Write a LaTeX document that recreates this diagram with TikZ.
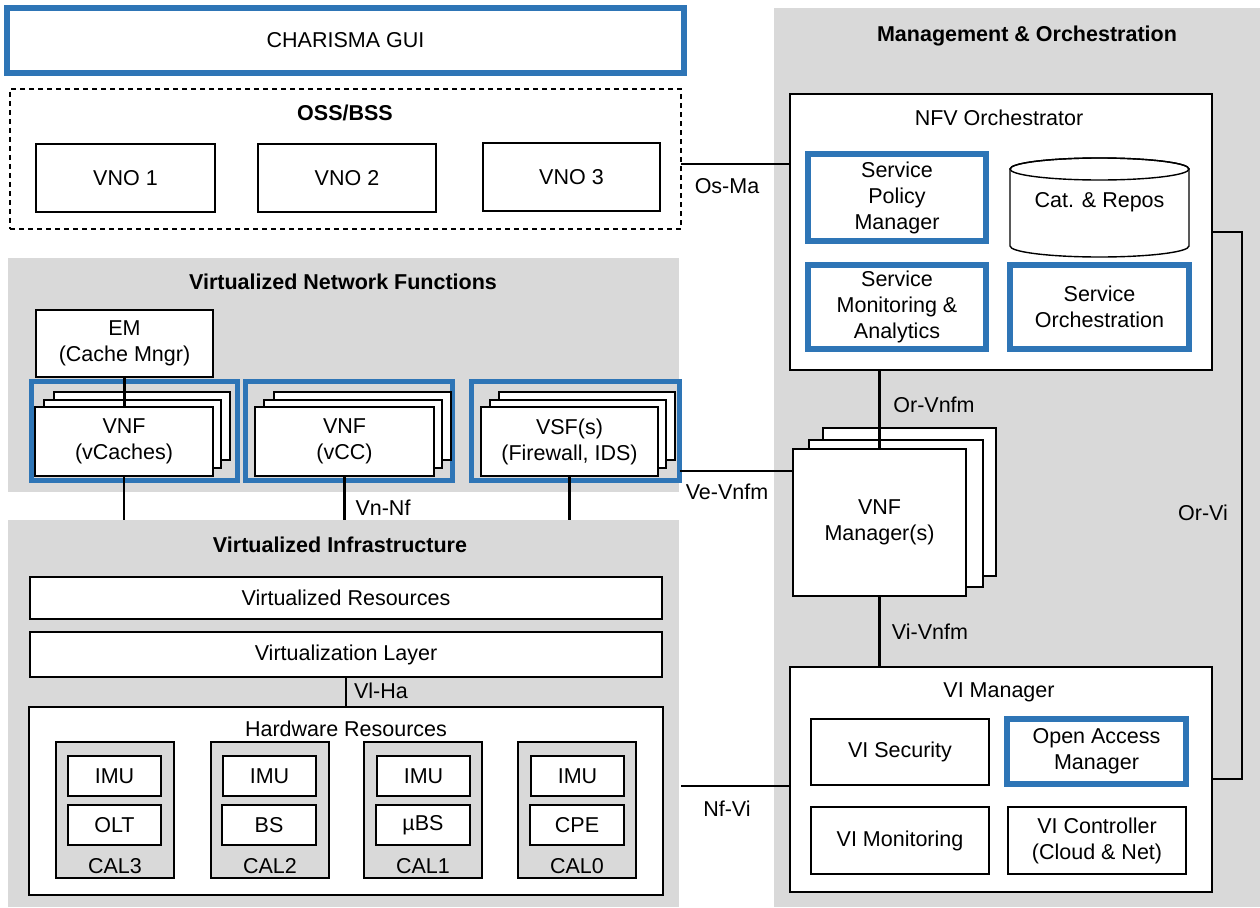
\documentclass[tikz,border=0pt]{standalone}
\usepackage{fontspec}
\setmainfont{Liberation Sans}
\definecolor{mblue}{RGB}{46,117,182}
\definecolor{pgray}{RGB}{217,217,217}
\newcommand{\bx}[7]{%
  \pgfmathsetmacro\bxcx{(#4+#6)/2}%
  \pgfmathsetmacro\bxcy{(#5+#7)/2}%
  \pgfmathsetmacro\bxww{#6-#4}%
  \pgfmathsetmacro\bxhh{#7-#5}%
  \node[#1, minimum width=\bxww pt, minimum height=\bxhh pt] (#2) at (\bxcx,\bxcy) {#3};}
\tikzset{
  every node/.style={font=\fontsize{21.5}{26}\selectfont, align=center, inner sep=0pt, outer sep=0pt},
  panel/.style={fill=pgray, draw=none},
  wbox/.style={draw=black, fill=white, line width=1.4pt},
  gbox/.style={draw=black, fill=pgray, line width=1.4pt},
  bbox/.style={draw=mblue, fill=white, line width=5.5pt},
  bframe/.style={draw=mblue, line width=5.5pt},
  dbox/.style={draw=black, line width=1.3pt, dash pattern=on 5pt off 4pt},
  ghost/.style={draw=none},
  conn/.style={line width=2.6pt},
  ttl/.style={font=\fontsize{21.5}{26}\selectfont\bfseries},
}
\begin{document}
\begin{tikzpicture}[x=1pt,y=-1pt]
\useasboundingbox (0,0) rectangle (1260,907);
% panels
\bx{panel}{mano}{}{774}{8}{1260}{907}
\bx{panel}{vnfpanel}{}{8}{258}{679}{492}
\bx{panel}{vipanel}{}{8}{520}{679}{907}
\node[ttl] (manot) at (1027,36) {Management \& Orchestration};
\node[ttl] (vnft) at (343,282) {Virtualized Network Functions};
\node[ttl] (vit) at (340,545) {Virtualized Infrastructure};
% GUI and OSS/BSS
\bx{bbox}{gui}{CHARISMA GUI}{7}{8}{684}{73}
\bx{dbox}{oss}{}{10}{89}{681}{229}
\node[ttl] (osst) at (345,113) {OSS/BSS};
\bx{wbox}{vno1}{VNO 1}{36}{144}{215}{212}
\bx{wbox}{vno2}{VNO 2}{258}{144}{436}{212}
\bx{wbox}{vno3}{VNO 3}{483}{143}{660}{211}
% VNFs
\bx{wbox}{em}{EM\\(Cache Mngr)}{36}{310}{213}{377}
\bx{bframe}{bcache}{}{31.5}{381.5}{237.5}{480.5}
\bx{bframe}{bvcc}{}{245.5}{381.5}{452.5}{480.5}
\bx{bframe}{bvsf}{}{471.5}{381.5}{679.5}{480.5}
\bx{wbox}{cache3}{}{54}{392}{230}{460}
\bx{wbox}{cache2}{}{44}{400}{221}{468}
\bx{wbox}{cache}{VNF\\(vCaches)}{35}{407}{213}{476}
\bx{wbox}{vcc3}{}{274}{392}{451}{460}
\bx{wbox}{vcc2}{}{264}{400}{442}{468}
\bx{wbox}{vcc}{VNF\\(vCC)}{255}{407}{434}{476}
\bx{wbox}{vsf3}{}{499}{392}{675}{460}
\bx{wbox}{vsf2}{}{490}{400}{666}{468}
\bx{wbox}{vsf}{VSF(s)\\(Firewall, IDS)}{481}{407}{658}{476}
% Virtualized infrastructure
\bx{wbox}{vres}{Virtualized Resources}{30}{577}{662}{619}
\bx{wbox}{vlayer}{Virtualization Layer}{30}{632}{662}{677}
\bx{wbox}{hw}{}{29}{707}{663}{895}
\node (hwt) at (346,729) {Hardware Resources};
\bx{gbox}{cal3}{}{56}{742}{174}{878}
\bx{wbox}{imu3}{IMU}{68}{756}{161}{796}
\bx{wbox}{olt}{OLT}{68}{805}{161}{845}
\node (cal3t) at (115,866) {CAL3};
\bx{gbox}{cal2}{}{211}{742}{329}{878}
\bx{wbox}{imu2}{IMU}{223}{756}{316}{796}
\bx{wbox}{bs}{BS}{222}{805}{316}{845}
\node (cal2t) at (270,866) {CAL2};
\bx{gbox}{cal1}{}{364}{742}{482}{878}
\bx{wbox}{imu1}{IMU}{377}{756}{470}{796}
\bx{wbox}{ubs}{µBS}{376}{805}{470}{845}
\node (cal1t) at (423,866) {CAL1};
\bx{gbox}{cal0}{}{518}{742}{636}{878}
\bx{wbox}{imu0}{IMU}{531}{756}{624}{796}
\bx{wbox}{cpe}{CPE}{530}{805}{624}{845}
\node (cal0t) at (577,866) {CAL0};
% MANO
\bx{wbox}{nfvo}{}{790}{94}{1212}{370}
\node (nfvot) at (999,118) {NFV Orchestrator};
\bx{bbox}{spm}{Service\\Policy\\Manager}{808}{154}{986}{241}
\bx{ghost}{cat}{}{1010}{158}{1189}{235}
\draw[wbox] (cat.north west) ++(0,11) -- ([yshift=-11pt]cat.south west)
  arc[start angle=180,end angle=360,x radius=89.5pt,y radius=11pt]
  -- ([yshift=-11pt]cat.north east)
  arc[start angle=0,end angle=180,x radius=89.5pt,y radius=11pt] -- cycle;
\draw[line width=1.4pt] ([yshift=-11pt]cat.north) ellipse[x radius=89.5pt,y radius=11pt];
\node (catt) at ([yshift=-6pt]cat.center) {Cat. \& Repos};
\bx{bbox}{sma}{Service\\Monitoring \&\\Analytics}{808}{265}{986}{349}
\bx{bbox}{so}{Service\\Orchestration}{1010}{265}{1189}{349}
\bx{wbox}{vnfm3}{}{823}{428}{996}{576}
\bx{wbox}{vnfm2}{}{809}{440}{983}{587}
\bx{wbox}{vnfm}{VNF\\Manager(s)}{793}{449}{966}{596}
\bx{wbox}{vim}{}{790}{667}{1212}{892}
\node (vimt) at (999,692) {VI Manager};
\bx{wbox}{visec}{VI Security}{811}{719}{989}{785}
\bx{bbox}{oam}{Open Access\\Manager}{1007}{719}{1186}{784}
\bx{wbox}{vimon}{VI Monitoring}{811}{807}{989}{874}
\bx{wbox}{victl}{VI Controller\\(Cloud \& Net)}{1008}{807}{1186}{874}
% connectors
\coordinate (osma) at (681,164);
\draw[conn] (osma) -- (osma -| nfvo.west);
\coordinate (orvi1) at (1212,232);
\coordinate (orvi2) at (1242,232);
\coordinate (orvi3) at (1242,779);
\draw[conn] (orvi1) -- (orvi2) -- (orvi3) -- (orvi3 -| vim.east);
\draw[conn] (vnfm.north) -- (vnfm.north |- nfvo.south);
\draw[conn] (vnfm.south) -- (vnfm.south |- vim.north);
\coordinate (vevnfm) at (679.5,471);
\draw[conn] (vevnfm) -- (vevnfm -| vnfm.west);
\coordinate (nfvi) at (681,786);
\draw[conn] (nfvi) -- (nfvi -| vim.west);
\draw[conn] (em.south) -- (em.south |- cache.north);
\draw[conn] (cache.south) -- (cache.south |- vipanel.north);
\draw[conn] (vcc.south) -- (vcc.south |- vipanel.north);
\draw[conn] (vsf.south) -- (vsf.south |- vipanel.north);
\draw[conn] (vlayer.south) -- (vlayer.south |- hw.north);
% labels
\node (losma) at (727,186) {Os-Ma};
\node (lvevnfm) at (727,492) {Ve-Vnfm};
\node (lnfvi) at (727,809) {Nf-Vi};
\node (lorvnfm) at (934,405) {Or-Vnfm};
\node (lvivnfm) at (930,632) {Vi-Vnfm};
\node (lorvi) at (1203,513) {Or-Vi};
\node (lvnnf) at (383,508) {Vn-Nf};
\node (lviha) at (381,691) {Vl-Ha};
\end{tikzpicture}
\end{document}
